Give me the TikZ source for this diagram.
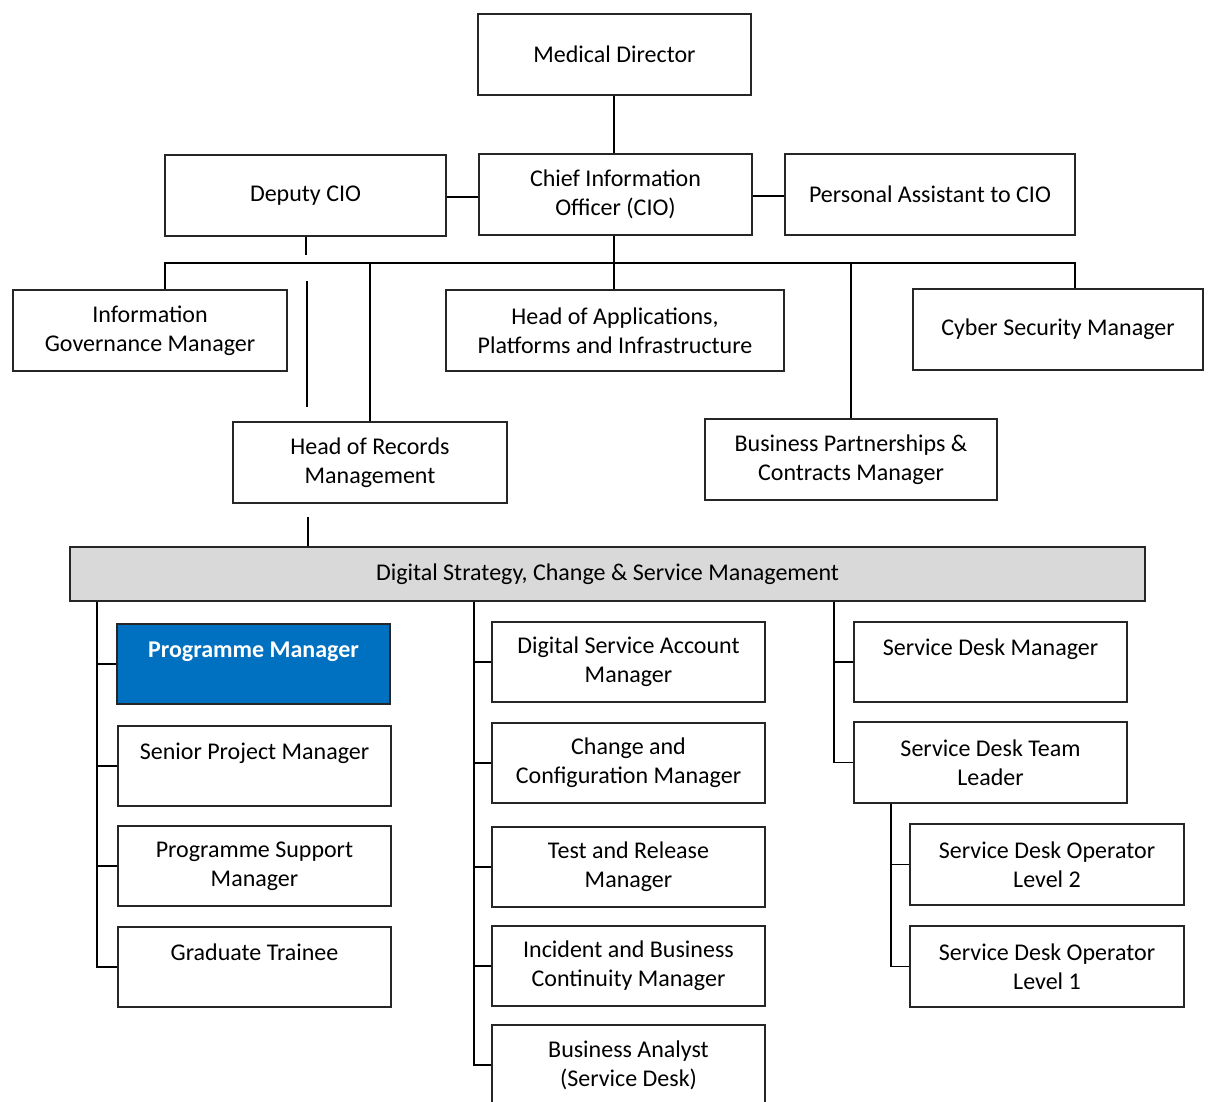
\documentclass[tikz,border=0pt]{standalone}
\usepackage{fontspec}
\setmainfont{Carlito}
\definecolor{progblue}{HTML}{0070C0}
\definecolor{bargray}{HTML}{D9D9D9}
% \orgbox[options]{name}{x1}{y1}{x2}{y2}{text}
\newcommand\orgbox[7][]{%
  \node[box,#1,minimum width={(#5-#3)*0.5pt},minimum height={(#6-#4)*0.5pt}]
    (#2) at ({(#3+#5)/2},{(#4+#6)/2}) {#7};}
\begin{document}
\begin{tikzpicture}[x=0.5pt,y=-0.5pt,
  box/.style={draw=black!85, line width=0.6pt, fill=white, inner sep=0pt,
    align=center, text=black, font=\fontsize{12}{14.6}\selectfont},
  featured/.style={fill=progblue, text=white, font=\fontsize{12}{14.6}\selectfont\bfseries},
  banner/.style={fill=bargray},
  link/.style={draw=black, line width=0.9pt}]
\useasboundingbox (0,0) rectangle (1210,1102);

% ---- top management
\orgbox{md}{478}{14}{751}{95}{Medical Director}
\orgbox{cio}{479}{154}{752}{235}{Chief Information\\Officer (CIO)}
\orgbox{dep}{165}{155}{446}{236}{Deputy CIO}
\orgbox{pa}{785}{154}{1075}{235}{Personal Assistant to CIO}

% ---- direct reports
\orgbox{igm}{13}{290}{287}{371}{Information\\Governance Manager}
\orgbox{hap}{446}{290}{784}{371}{Head of Applications,\\Platforms and Infrastructure}
\orgbox{csm}{913}{289}{1203}{370}{Cyber Security Manager}
\orgbox{hrm}{233}{422}{507}{503}{Head of Records\\Management}
\orgbox{bpc}{705}{419}{997}{500}{Business Partnerships \&\\Contracts Manager}

% ---- department banner
\orgbox[banner]{dept}{70}{547}{1145}{601}{Digital Strategy, Change \& Service Management}

% ---- left column
\orgbox[featured]{pgm}{117}{624}{390}{704}{Programme Manager\\\mbox{}}
\orgbox{spm}{118}{726}{391}{806}{Senior Project Manager\\\mbox{}}
\orgbox{psm}{118}{826}{391}{906}{Programme Support\\Manager}
\orgbox{grad}{118}{927}{391}{1007}{Graduate Trainee\\\mbox{}}

% ---- middle column
\orgbox{dsa}{492}{622}{765}{702}{Digital Service Account\\Manager}
\orgbox{ccm}{492}{723}{765}{803}{Change and\\Configuration Manager}
\orgbox{trm}{492}{827}{765}{907}{Test and Release\\Manager}
\orgbox{ibc}{492}{926}{765}{1006}{Incident and Business\\Continuity Manager}
\orgbox{ban}{492}{1025}{765}{1105}{Business Analyst\\(Service Desk)}

% ---- right column
\orgbox{sdm}{854}{622}{1127}{702}{Service Desk Manager\\\mbox{}}
\orgbox{sdl}{854}{722}{1127}{803}{Service Desk Team\\Leader}
\orgbox{op2}{910}{824}{1184}{905}{Service Desk Operator\\Level 2}
\orgbox{op1}{910}{926}{1184}{1007}{Service Desk Operator\\Level 1}

% ---- upper connectors
\coordinate (cioX) at (614,0);
\draw[link] (cioX |- md.south) -- (cioX |- cio.north);
\draw[link] (dep.east |- 0,197) -- (cio.west |- 0,197);
\draw[link] (cio.east |- 0,196) -- (pa.west |- 0,196);
\coordinate (busL) at (165,263);
\coordinate (busR) at (1075,263);
\draw[link] (busL |- igm.north) -- (busL) -- (busR) -- (busR |- csm.north);
\draw[link] (cioX |- cio.south) -- (cioX |- hap.north);
\draw[link] (hrm.north) -- (hrm.north |- busL);
\draw[link] (bpc.north) -- (bpc.north |- busL);
\coordinate (depStub) at (306,255);
\draw[link] (depStub |- dep.south) -- (depStub);
\coordinate (sideTop) at (307,281);
\coordinate (sideBot) at (307,407);
\draw[link] (sideTop) -- (sideBot);
\coordinate (hrmStub) at (308,517);
\draw[link] (hrmStub) -- (hrmStub |- dept.north);

% ---- column connectors
\coordinate (colL) at (97,0);
\coordinate (colM) at (474,0);
\coordinate (colR) at (834,0);
\coordinate (colS) at (891,0);
\draw[link] (colL |- dept.south) -- (colL |- grad.west) -- (grad.west);
\foreach \n in {pgm,spm,psm}
  \draw[link] (colL |- \n.west) -- (\n.west);
\draw[link] (colM |- dept.south) -- (colM |- ban.west) -- (ban.west);
\foreach \n in {dsa,ccm,trm,ibc}
  \draw[link] (colM |- \n.west) -- (\n.west);
\draw[link] (colR |- dept.south) -- (colR |- sdl.west) -- (sdl.west);
\draw[link] (colR |- sdm.west) -- (sdm.west);
\draw[link] (colS |- sdl.south) -- (colS |- op1.west) -- (op1.west);
\draw[link] (colS |- op2.west) -- (op2.west);
\end{tikzpicture}
\end{document}
